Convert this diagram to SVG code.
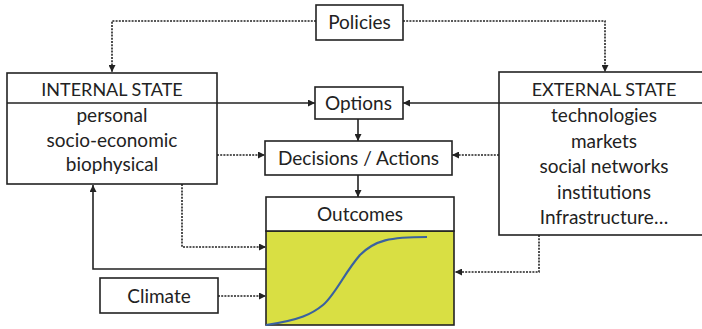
<svg xmlns="http://www.w3.org/2000/svg" width="702" height="329" viewBox="0 0 702 329">
<defs>
<marker id="ah" viewBox="0 0 10 10" refX="10" refY="5" markerWidth="7" markerHeight="7" markerUnits="userSpaceOnUse" orient="auto">
<path d="M0,0 L10,5 L0,10 z" fill="#222"/>
</marker>
<style>
.box{fill:#fff;stroke:#222;stroke-width:1.6}
.ln{fill:none;stroke:#222;stroke-width:1.6}
.dt{fill:none;stroke:#222;stroke-width:1.6;stroke-dasharray:2 1.2}
text{font-family:Lato,"Liberation Sans",sans-serif;font-size:19px;fill:#222;text-anchor:middle}
.hd{font-size:18px}
</style>
</defs>
<g id="connectors">
<path class="dt" d="M316,21 H112 V72" marker-end="url(#ah)"/>
<path class="dt" d="M403,21 H605 V72" marker-end="url(#ah)"/>
<path class="ln" d="M217,103 H315" marker-end="url(#ah)"/>
<path class="ln" d="M499,103 H403" marker-end="url(#ah)"/>
<path class="ln" d="M358,119 V141" marker-end="url(#ah)"/>
<path class="dt" d="M217,155 H265" marker-end="url(#ah)"/>
<path class="dt" d="M499,155 H452" marker-end="url(#ah)"/>
<path class="ln" d="M358,175 V197" marker-end="url(#ah)"/>
<path class="dt" d="M182,184 V247 H266" marker-end="url(#ah)"/>
<path class="ln" d="M266,269 H93 V185" marker-end="url(#ah)"/>
<path class="dt" d="M218,296 H266" marker-end="url(#ah)"/>
<path class="dt" d="M539,235 V272 H455" marker-end="url(#ah)"/>
</g>
<g id="policies">
<rect class="box" x="316" y="5" width="87" height="35"/>
<text x="359.5" y="29">Policies</text>
</g>
<g id="internal">
<rect class="box" x="7" y="73" width="210" height="111"/>
<line class="ln" x1="7" y1="103" x2="217" y2="103"/>
<text class="hd" x="112" y="96">INTERNAL STATE</text>
<text x="112" y="122">personal</text>
<text x="112" y="147">socio-economic</text>
<text x="112" y="171">biophysical</text>
</g>
<g id="external">
<rect class="box" x="499" y="72" width="210" height="163"/>
<line class="ln" x1="499" y1="103" x2="702" y2="103"/>
<text class="hd" x="604" y="96">EXTERNAL STATE</text>
<text x="604" y="122">technologies</text>
<text x="604" y="147.5">markets</text>
<text x="604" y="173">social networks</text>
<text x="604" y="198.5">institutions</text>
<text x="604" y="224">Infrastructure…</text>
</g>
<g id="options">
<rect class="box" x="315" y="87" width="88" height="32"/>
<text x="358.5" y="110">Options</text>
</g>
<g id="decisions">
<rect class="box" x="265" y="141" width="187" height="34"/>
<text x="358.5" y="165">Decisions / Actions</text>
</g>
<g id="outcomes">
<rect x="266" y="231" width="188" height="94" fill="#d9df43" stroke="#222" stroke-width="1.6"/>
<rect class="box" x="266" y="197" width="188" height="34"/>
<text x="360" y="221">Outcomes</text>
<path d="M266,325 C300,320 312,314 323,305 C335,295 345,272 360,255 C375,240 390,237 427,237" fill="none" stroke="#3a62a0" stroke-width="2.2"/>
</g>
<g id="climate">
<rect class="box" x="100" y="278" width="118" height="35"/>
<text x="159" y="303">Climate</text>
</g>
</svg>
